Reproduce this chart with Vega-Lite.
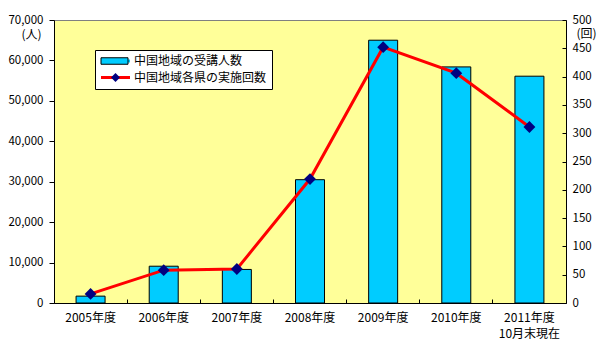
{
  "$schema": "https://vega.github.io/schema/vega-lite/v6.json",
  "width": 512,
  "height": 283,
  "autosize": {"type": "none"},
  "padding": {"left": 54, "top": 20, "right": 37, "bottom": 53},
  "background": "white",
  "config": {
    "view": {"fill": "#FFFF99", "stroke": "#808080", "strokeWidth": 1},
    "font": "Noto Sans CJK JP",
    "axis": {"domainColor": "black", "tickColor": "black", "labelColor": "black", "titleColor": "black", "grid": false, "labelFont": "Noto Sans CJK JP", "titleFont": "Noto Sans CJK JP", "titleFontWeight": "normal"}
  },
  "data": {"values": [
    {"year": "2005年度", "people": 1700, "count": 16},
    {"year": "2006年度", "people": 9100, "count": 58},
    {"year": "2007年度", "people": 8300, "count": 60},
    {"year": "2008年度", "people": 30500, "count": 219},
    {"year": "2009年度", "people": 65000, "count": 452},
    {"year": "2010年度", "people": 58400, "count": 406},
    {"year": "2011年度 10月末現在", "people": 56100, "count": 311}
  ]},
  "encoding": {
    "x": {"field": "year", "type": "nominal", "sort": null,
      "scale": {"paddingInner": 0, "paddingOuter": 0},
      "axis": {"title": null, "labelAngle": 0, "tickSize": -4, "bandPosition": 0, "labelPadding": 13, "labelFontSize": 12, "labelLineHeight": 16, "labelBaseline": "top", "labelExpr": "split(datum.label, ' ')"}}
  },
  "layer": [
    {"mark": {"type": "bar", "size": 29, "strokeWidth": 1, "opacity": 1},
     "encoding": {
       "y": {"field": "people", "type": "quantitative", "scale": {"domain": [0, 70000]},
         "axis": {"values": [0, 10000, 20000, 30000, 40000, 50000, 60000, 70000], "format": ",.0f", "tickSize": 5, "labelPadding": 6, "labelFontSize": 11.5, "title": "(人)", "titleAngle": 0, "titleX": -23, "titleY": 14, "titleAlign": "center", "titleBaseline": "middle", "titleFontSize": 12}},
       "fill": {"datum": "中国地域の受講人数", "type": "nominal",
         "scale": {"domain": ["中国地域の受講人数", "中国地域各県の実施回数"], "range": ["#00CCFF", "#FF0000"]},
         "legend": {"orient": "none", "legendX": 41, "legendY": 30, "title": null, "fillColor": "white", "strokeColor": "black", "padding": 5, "symbolSize": 100, "symbolType": "M-1,-0.3H4.8V0.3H-1Z", "symbolStrokeWidth": 0, "labelFontSize": 12, "labelOffset": 22, "rowPadding": 4.5, "labelColor": "black", "labelFont": "Noto Sans CJK JP", "zindex": 0}},
       "stroke": {"datum": "枠", "type": "nominal", "scale": {"range": ["#000000"]},
         "legend": {"orient": "none", "legendX": 46, "legendY": 35, "title": null, "padding": 0, "symbolSize": 100, "symbolType": "M-1,-0.65H4.4V0.65H-1Z", "symbolFillColor": "#00CCFF", "symbolStrokeColor": "#000000", "symbolStrokeWidth": 1, "labelExpr": "''", "labelFontSize": 12, "zindex": 1}}
     }},
    {"mark": {"type": "line", "strokeWidth": 3, "color": "#FF0000"},
     "encoding": {
       "y": {"field": "count", "type": "quantitative", "scale": {"domain": [0, 500]},
         "axis": {"orient": "right", "values": [0, 50, 100, 150, 200, 250, 300, 350, 400, 450, 500], "tickSize": -4, "labelPadding": 10, "labelFontSize": 11.5, "title": "(回)", "titleAngle": 0, "titleX": 20, "titleY": 13, "titleAlign": "center", "titleBaseline": "middle", "titleFontSize": 12}}
     }},
    {"mark": {"type": "point", "filled": true, "color": "#000080", "size": 140, "opacity": 1},
     "encoding": {
       "y": {"field": "count", "type": "quantitative", "scale": {"domain": [0, 500]}, "axis": null},
       "shape": {"datum": "中国地域各県の実施回数", "type": "nominal", "scale": {"range": ["diamond"]},
         "legend": {"orient": "none", "legendX": 55.5, "legendY": 51.5, "title": null, "symbolSize": 81, "symbolFillColor": "#000080", "symbolStrokeColor": "#000080", "symbolStrokeWidth": 0, "labelExpr": "''", "padding": 0, "labelFontSize": 12, "zindex": 2}}
     }}
  ],
  "resolve": {"scale": {"y": "independent"}}
}
